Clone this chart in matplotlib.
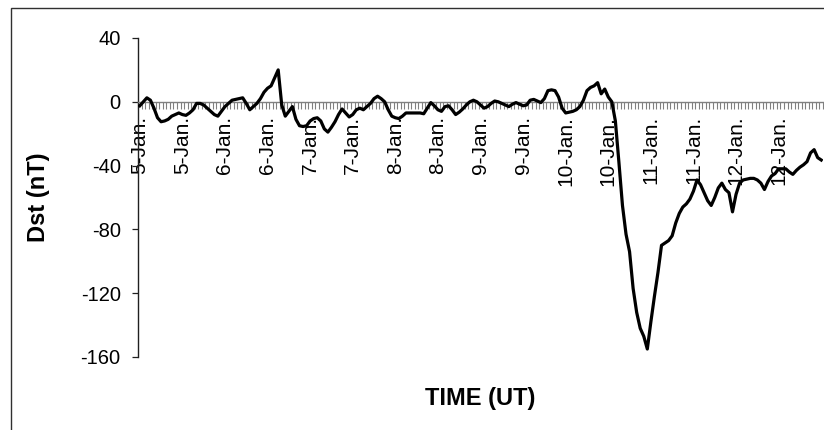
# Dst index, 5-12 Jan, hourly values

import matplotlib
matplotlib.use("Agg")
import matplotlib.pyplot as plt
from matplotlib.patches import Rectangle
import numpy as np

# ------------------------------------------------------------
# DATA (nT, one value per hour, starting 5 Jan 00 UT)
# ------------------------------------------------------------

dst_jan05 = [-2.5, 0, 2.5, 1, -4, -10, -12.5, -12, -11, -9, -8, -7,
             -8, -8.5, -7, -5, -1, -1, -2, -4, -6, -8, -9, -6]
dst_jan06 = [-3, -1, 1, 1.5, 2, 2.5, -1, -5, -3, -1, 2, 6,
             8.5, 10, 15, 20, -2, -9, -6, -3, -11, -15, -15.5, -15]
dst_jan07 = [-12, -10.5, -10, -12, -17, -19, -16, -12.5, -8, -4.5, -7, -9.5,
             -8, -5, -4, -5, -3, -1, 2, 3.5, 2, 0, -5, -9]
dst_jan08 = [-10, -10.5, -9, -7, -7, -7, -7, -7, -7.5, -4, -0.5, -2.5,
             -5, -6, -3, -2.5, -5, -8, -6.5, -4.5, -2, 0, 1, 0]
dst_jan09 = [-2, -4, -3, -1, 0.5, 0, -1, -2, -3, -1.5, -0.5, -1.5,
             -2.5, -2, 1, 1.5, 0.5, -0.5, 2, 7, 7.5, 7, 3, -4]
dst_jan10 = [-7, -6.5, -6, -5, -3, 1, 7, 9, 10, 12, 5, 8,
             3, 0, -12, -38, -65, -83, -94, -117, -132, -142, -147, -155]
dst_jan11 = [-138, -122, -107, -90, -88.5, -87, -84, -76, -70, -66, -64, -61,
             -56, -49, -52, -57, -62, -65, -60, -54, -51, -55, -57, -69]
dst_jan12 = [-58, -51, -49, -48.5, -48, -48, -49, -51, -55, -50, -46.5, -45,
             -42, -42, -42, -44, -45.5, -43, -41, -39.5, -37.5, -32, -30, -35]
dst_jan13 = [-36.5]

dst = (dst_jan05 + dst_jan06 + dst_jan07 + dst_jan08 +
       dst_jan09 + dst_jan10 + dst_jan11 + dst_jan12 + dst_jan13)

# one label every 12 hours
time_labels = ["5-Jan.", "5-Jan.", "6-Jan.", "6-Jan.", "7-Jan.", "7-Jan.",
               "8-Jan.", "8-Jan.", "9-Jan.", "9-Jan.", "10-Jan.", "10-Jan.",
               "11-Jan.", "11-Jan.", "12-Jan.", "12-Jan."]

y_ticks = [-160, -120, -80, -40, 0, 40]

# ------------------------------------------------------------
# FIGURE
# ------------------------------------------------------------

plt.rcParams['font.family'] = ['Liberation Sans', 'DejaVu Sans']

W, H = 824, 430
fig = plt.figure(figsize=(W / 100, H / 100), dpi=100)

ax_left, ax_right, ax_top, ax_bottom = 138, 823, 38, 357
ax = fig.add_axes([ax_left / W, 1 - ax_bottom / H,
                   (ax_right - ax_left) / W, (ax_bottom - ax_top) / H])

hours = np.arange(len(dst))

ax.plot(hours, dst, color='black', linewidth=2.3, zorder=3,
        solid_joinstyle='round')

ax.set_xlim(-0.5, len(dst) - 0.5)
ax.set_ylim(-160, 40)

# axis lines
ax.spines['top'].set_visible(False)
ax.spines['right'].set_visible(False)
ax.spines['left'].set_color('#202020')
ax.spines['left'].set_linewidth(1.0)
ax.spines['bottom'].set_position(('data', 0))
ax.spines['bottom'].set_color('#808080')
ax.spines['bottom'].set_linewidth(1.0)

# y axis
ax.set_yticks(y_ticks)
ax.set_yticklabels([str(v) for v in y_ticks])
ax.tick_params(axis='y', direction='out', length=4.5, width=0.9,
               color='#202020', pad=8, labelsize=14.5)

# x axis: hatch mark every hour, label every 12 hours
ax.set_xticks(np.arange(0, 12 * len(time_labels), 12))
ax.set_xticklabels(time_labels, rotation=90, va='top', ha='center')
ax.set_xticks(np.arange(-0.5, len(dst), 1), minor=True)
ax.tick_params(axis='x', which='major', length=0, pad=10, labelsize=15)
ax.tick_params(axis='x', which='minor', direction='out', length=4.8,
               width=0.8, color='#808080')

ax.set_ylabel("Dst (nT)", fontsize=17, fontweight='bold')
ax.yaxis.set_label_coords((50 - ax_left) / (ax_right - ax_left), 0.5)

fig.text(480 / W, 1 - 399 / H, "TIME (UT)", fontsize=17, fontweight='bold',
         ha='center', va='center')

# outer chart frame
frame = Rectangle((10.5 / W, -0.2), 2, 1.2 - 7.5 / H,
                  transform=fig.transFigure, fill=False,
                  edgecolor='#303030', linewidth=1.0)
fig.patches.append(frame)

fig.savefig("out.png", dpi=100, facecolor='white')
